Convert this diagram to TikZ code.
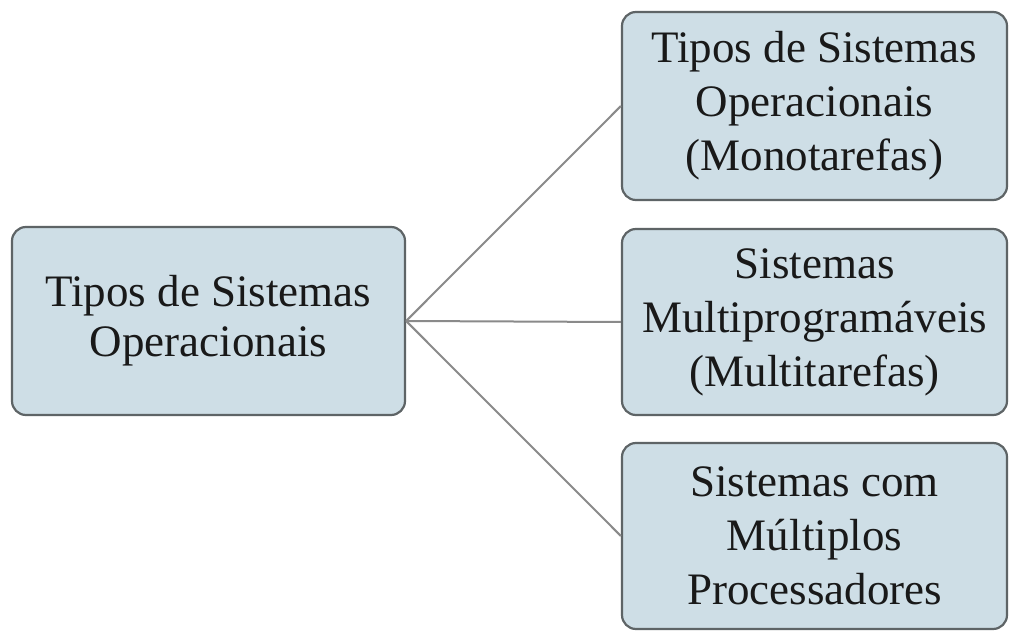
\documentclass[tikz,border=0pt]{standalone}
\usepackage{fontspec}
\setmainfont{Liberation Serif}
\definecolor{boxfill}{HTML}{CEDEE6}
\definecolor{boxedge}{HTML}{5E6466}
\definecolor{linkgray}{HTML}{8A8A8A}
\tikzset{
  topic/.style={draw=boxedge, line width=2.2pt, fill=boxfill, rounded corners=14pt,
    align=center, inner sep=0pt, text=black!90,
    font=\fontsize{45}{54}\selectfont},
  link/.style={draw=linkgray, line width=2pt}
}
\begin{document}
\begin{tikzpicture}[x=1pt,y=1pt]
  \useasboundingbox (0,0) rectangle (1009,630);
  \fill[white] (0,0) rectangle (1009,630);
  % root node
  \node[topic, minimum width=393pt, minimum height=188pt,
        font=\fontsize{45}{50}\selectfont] (root) at (208.5,309)
    {Tipos de Sistemas\\Operacionais};
  % child nodes
  \node[topic, minimum width=385pt, minimum height=188pt] (mono) at (814.5,524)
    {Tipos de Sistemas\\Operacionais\\(Monotarefas)};
  \node[topic, minimum width=385pt, minimum height=186pt] (multi) at (814.5,308)
    {Sistemas\\Multiprogramáveis\\(Multitarefas)};
  \node[topic, minimum width=385pt, minimum height=186pt] (proc) at (814.5,94)
    {Sistemas com\\Múltiplos\\Processadores};
  % connectors
  \draw[link] (root.east) -- (mono.west);
  \draw[link] (root.east) -- (multi.west);
  \draw[link] (root.east) -- (proc.west);
\end{tikzpicture}
\end{document}
